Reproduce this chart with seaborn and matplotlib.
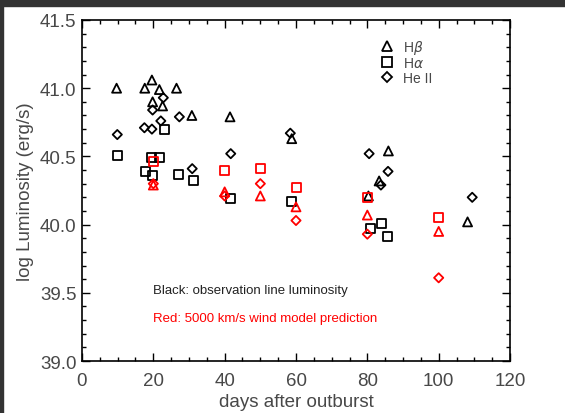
import matplotlib
matplotlib.use("Agg")
import matplotlib.pyplot as plt
import pandas as pd
import seaborn as sns
from matplotlib.lines import Line2D
from matplotlib.patches import Rectangle
from matplotlib.ticker import MultipleLocator

# observed line luminosities (black)
hb_days = [9.7, 17.6, 19.6, 21.7, 26.5, 19.8, 22.6, 30.8, 41.5, 58.8, 80.3, 83.3, 85.9, 108.1]
hb_lum = [41.00, 41.00, 41.06, 40.99, 41.00, 40.90, 40.87, 40.80, 40.79, 40.63, 40.21, 40.32, 40.54, 40.02]

ha_days = [10.0, 17.7, 19.6, 21.8, 19.7, 23.1, 27.1, 31.2, 41.5, 58.6, 81.0, 84.1, 85.7]
ha_lum = [40.51, 40.39, 40.49, 40.49, 40.36, 40.70, 40.37, 40.32, 40.19, 40.17, 39.97, 40.01, 39.91]

he_days = [9.9, 17.5, 19.6, 19.8, 22.8, 22.1, 27.3, 30.9, 41.7, 58.4, 80.5, 83.8, 85.8, 109.4]
he_lum = [40.66, 40.71, 40.70, 40.84, 40.93, 40.76, 40.79, 40.41, 40.52, 40.67, 40.52, 40.29, 40.39, 40.20]

# 5000 km/s wind model prediction (red)
model_days = [20, 40, 50, 60, 80, 100]
model_ha = [40.46, 40.40, 40.41, 40.27, 40.20, 40.05]
model_hb = [40.29, 40.24, 40.21, 40.13, 40.07, 39.95]
model_he = [40.30, 40.21, 40.30, 40.03, 39.93, 39.61]

groups = [
    (hb_days, hb_lum, "^", "black"),
    (ha_days, ha_lum, "s", "black"),
    (he_days, he_lum, "D", "black"),
    (model_days, model_hb, "^", "red"),
    (model_days, model_ha, "s", "red"),
    (model_days, model_he, "D", "red"),
]
sizes = {"^": 42, "s": 42, "D": 22}

sns.set_theme(style="ticks")
plt.rcParams["font.family"] = ["Liberation Sans", "DejaVu Sans"]
text_color = "#484848"

fig = plt.figure(figsize=(5.65, 4.14), dpi=100, facecolor="white")
ax = fig.add_axes([0.1451, 0.1256, 0.7576, 0.8237])

for days, lum, marker, color in groups:
    df = pd.DataFrame({"day": days, "lum": lum})
    sns.scatterplot(
        data=df, x="day", y="lum", ax=ax, marker=marker, s=sizes[marker],
        facecolors="none", edgecolor=color, linewidth=1.3, legend=False,
    )

ax.set_xlim(0, 120)
ax.set_ylim(39.0, 41.5)
ax.xaxis.set_major_locator(MultipleLocator(20))
ax.xaxis.set_minor_locator(MultipleLocator(5))
ax.yaxis.set_major_locator(MultipleLocator(0.5))
ax.yaxis.set_minor_locator(MultipleLocator(0.1))
ax.yaxis.set_major_formatter(plt.FuncFormatter(lambda v, p: f"{v:.1f}"))
ax.tick_params(which="both", direction="in", top=True, right=True, width=1.0, color="black",
               labelsize=13.5, labelcolor=text_color)
ax.tick_params(which="major", length=6)
ax.tick_params(axis="y", which="major", pad=4)
ax.tick_params(axis="x", which="major", pad=8)
ax.tick_params(which="minor", length=3)
for sp in ax.spines.values():
    sp.set_visible(True)
    sp.set_linewidth(1.2)
    sp.set_color("black")

ax.set_xlabel("days after outburst", fontsize=13.5, color=text_color, labelpad=3)
ax.set_ylabel("log Luminosity (erg/s)", fontsize=13.5, color=text_color, labelpad=4)

handles = [
    Line2D([], [], ls="none", marker="^", ms=7, mfc="none", mec="black", mew=1.3),
    Line2D([], [], ls="none", marker="s", ms=7, mfc="none", mec="black", mew=1.3),
    Line2D([], [], ls="none", marker="D", ms=5, mfc="none", mec="black", mew=1.3),
]
leg = ax.legend(handles, [r"H$\beta$", r"H$\alpha$", "He II"], loc="upper left",
                bbox_to_anchor=(0.66, 0.985), frameon=False, fontsize=10,
                handletextpad=0.4, labelspacing=0.05, handlelength=1.5)
for t in leg.get_texts():
    t.set_color(text_color)

ax.text(0.165, 0.207, "Black: observation line luminosity", transform=ax.transAxes,
        fontsize=9.5, color="#222222", va="center")
ax.text(0.165, 0.127, "Red: 5000 km/s wind model prediction", transform=ax.transAxes,
        fontsize=9.5, color="red", va="center")

# dark frame strips of the screenshot
fig.patches.append(Rectangle((0, 1 - 7 / 414), 1, 7 / 414, transform=fig.transFigure,
                             color="#333333", zorder=10))
fig.patches.append(Rectangle((0, 0), 3 / 565, 1, transform=fig.transFigure,
                             color="#333333", zorder=10))

fig.savefig("out.png", dpi=100, facecolor="white")
plt.close(fig)
